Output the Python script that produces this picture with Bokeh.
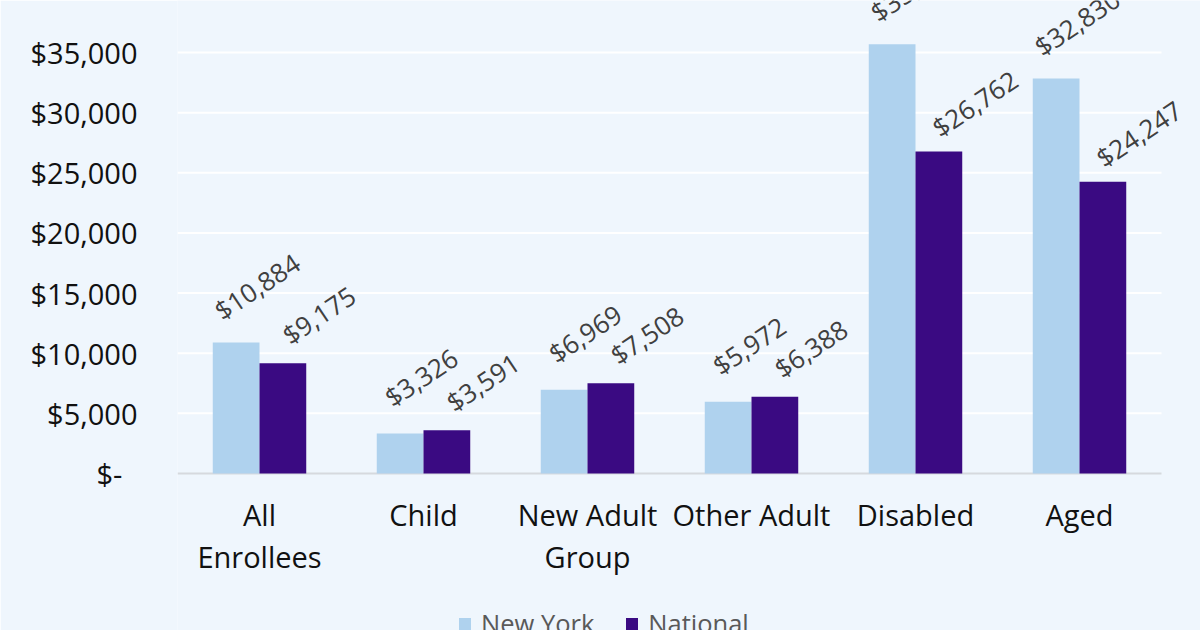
from bokeh.plotting import figure
from bokeh.models import (ColumnDataSource, Range1d, FixedTicker, Legend, LegendItem)
from bokeh.core.properties import value
from bokeh.embed import file_html
from bokeh.resources import INLINE

categories = ["All Enrollees", "Child", "New Adult Group", "Other Adult", "Disabled", "Aged"]
category_line1 = ["All", "Child", "New Adult", "Other Adult", "Disabled", "Aged"]
category_line2 = ["Enrollees", "", "Group", "", "", ""]
new_york = [10884, 3326, 6969, 5972, 35695, 32830]
national = [9175, 3591, 7508, 6388, 26762, 24247]
y_ticks = [0, 5000, 10000, 15000, 20000, 25000, 30000, 35000]
y_tick_labels = ["$-\u00a0\u00a0", "$5,000", "$10,000", "$15,000", "$20,000",
                 "$25,000", "$30,000", "$35,000"]
series_names = ["New York", "National"]

NY_COLOR = "#AFD2EE"
NAT_COLOR = "#3A0A82"
BG = "#EFF6FD"
FONT = "Open Sans"

W, H = 1200, 630
LEFT = 177            # frame left edge (px)
AXIS_Y = 473          # pixel row of the value 0
PX_PER_CAT = 164      # pixel width of one category
UNITS_PER_PX = 35000 / (AXIS_Y - 52)

n = len(categories)
idx = list(range(n))
bw = 0.285

src = ColumnDataSource(dict(
    x=idx,
    x_ny=[i - bw / 2 for i in idx],
    x_nat=[i + bw / 2 for i in idx],
    ny=new_york,
    nat=national,
    ny_lbl=[f"${v:,}" for v in new_york],
    nat_lbl=[f"${v:,}" for v in national],
    zero=[0] * n,
    l1=category_line1,
    l2=category_line2,
))

x_end = -0.5 + (W - LEFT) / PX_PER_CAT
y_top = AXIS_Y * UNITS_PER_PX
y_bot = -(H - AXIS_Y) * UNITS_PER_PX

p = figure(width=W, height=H, x_range=Range1d(-0.5, x_end), y_range=Range1d(y_bot, y_top),
           output_backend="svg", toolbar_location=None, x_axis_location=None,
           min_border_left=LEFT, min_border_right=0, min_border_top=0, min_border_bottom=0)
p.background_fill_color = BG
p.border_fill_color = BG
p.outline_line_color = None
p.xgrid.grid_line_color = None
p.ygrid.grid_line_color = None

# gridlines (plot-area wide only) and baseline
grid_vals = y_ticks[1:]
p.segment(x0=[-0.5] * len(grid_vals), x1=[n - 0.5] * len(grid_vals), y0=grid_vals,
          y1=grid_vals, line_color="white", line_width=2)
p.segment(x0=[-0.5], x1=[n - 0.5], y0=[0], y1=[0], line_color="#D6D9DE", line_width=2)

r_ny = p.vbar(x="x_ny", top="ny", width=bw, source=src, fill_color=NY_COLOR, line_color=None)
r_nat = p.vbar(x="x_nat", top="nat", width=bw, source=src, fill_color=NAT_COLOR, line_color=None)

ang = 0.59
p.text(x="x_ny", y="ny", text="ny_lbl", source=src, angle=ang, x_offset=21, y_offset=-56,
       text_align="center", text_baseline="middle", text_font=value(FONT),
       text_font_size="26px", text_color="#404040")
p.text(x="x_nat", y="nat", text="nat_lbl", source=src, angle=ang, x_offset=36, y_offset=-48,
       text_align="center", text_baseline="middle", text_font=value(FONT),
       text_font_size="26px", text_color="#404040")

# category labels (two lines)
p.text(x="x", y="zero", text="l1", source=src, y_offset=41, text_align="center",
       text_baseline="alphabetic", text_font=value(FONT), text_font_size="29px",
       text_color="#111111")
p.text(x="x", y="zero", text="l2", source=src, y_offset=83, text_align="center",
       text_baseline="alphabetic", text_font=value(FONT), text_font_size="29px",
       text_color="#111111")

# y axis
p.yaxis.ticker = FixedTicker(ticks=y_ticks)
p.yaxis.major_label_overrides = {t: l for t, l in zip(y_ticks, y_tick_labels)}
p.yaxis.axis_line_color = None
p.yaxis.major_tick_line_color = None
p.yaxis.minor_tick_line_color = None
p.yaxis.major_label_text_font = FONT
p.yaxis.major_label_text_font_size = "29px"
p.yaxis.major_label_text_color = "#111111"
p.yaxis.major_label_standoff = 34

legend = Legend(items=[LegendItem(label=series_names[0], renderers=[r_ny]),
                       LegendItem(label=series_names[1], renderers=[r_nat])],
                orientation="horizontal", location=(280, -10))
legend.background_fill_alpha = 0
legend.border_line_color = None
legend.label_text_font = FONT
legend.label_text_font_size = "25.5px"
legend.label_text_color = "#595959"
legend.glyph_width = 15
legend.glyph_height = 15
legend.label_standoff = 9
legend.spacing = 30
legend.padding = 0
legend.margin = 0
p.add_layout(legend, "center")

open("out.html", "w").write(file_html(p, INLINE))
